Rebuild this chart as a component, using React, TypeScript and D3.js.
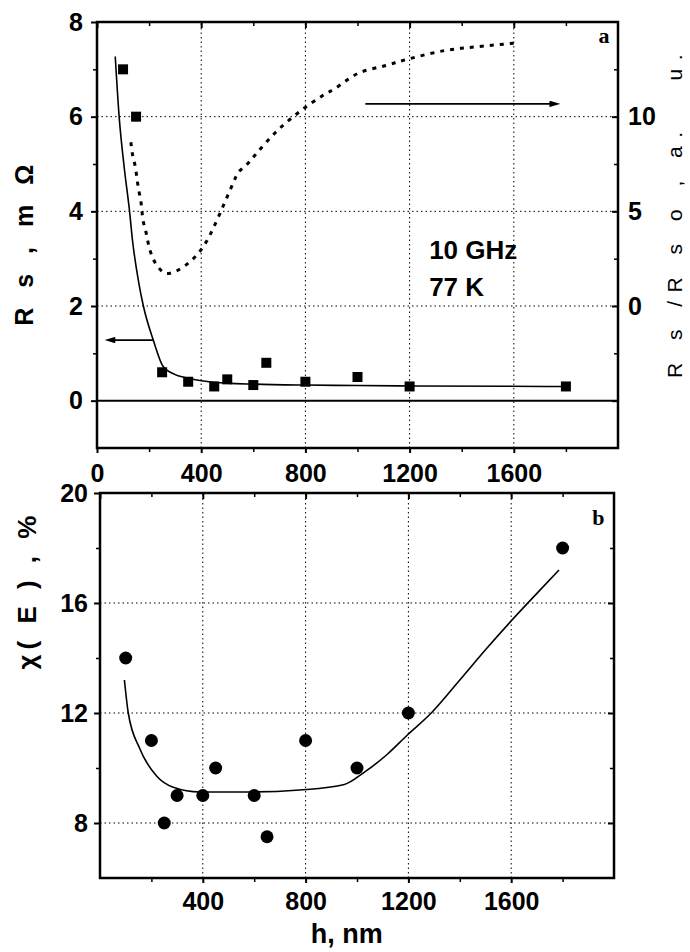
import React, { useEffect, useRef } from 'react';
import * as d3 from 'd3';

// ---- panel a: Rs vs film thickness h ----
const hA = [100, 150, 250, 350, 450, 500, 600, 650, 800, 1000, 1200, 1800];
const rsA = [7.0, 6.0, 0.6, 0.4, 0.3, 0.45, 0.33, 0.8, 0.4, 0.5, 0.3, 0.3];

// solid fit through the squares
const fitAh = [70, 85, 105, 125, 136, 160, 178, 216, 254, 300, 346, 400, 500, 600, 800, 1000, 1200, 1800];
const fitAv = [7.27, 6.0, 4.9, 4.0, 3.4, 2.5, 2.0, 1.28, 0.72, 0.55, 0.48, 0.42, 0.37, 0.35, 0.33, 0.32, 0.31, 0.3];

// dotted curve on the right axis, Rs/Rso
const ratioH = [130, 136, 146, 153, 159, 168, 172, 178, 188, 197, 210, 232, 264, 306, 354, 393, 419, 446, 485, 523, 542, 577, 615, 692, 781, 865, 915, 1004, 1108, 1196, 1338, 1465, 1615];
const ratioV = [8.65, 8.03, 7.42, 6.8, 6.2, 5.58, 5.05, 4.44, 3.9, 3.3, 2.68, 2.1, 1.72, 1.86, 2.3, 2.86, 3.38, 4.1, 5.3, 6.5, 7.05, 7.5, 8.1, 9.26, 10.3, 11.1, 11.5, 12.3, 12.7, 13.05, 13.5, 13.7, 13.9];

// ---- panel b: chi(E) vs h ----
const hB = [100, 200, 250, 300, 400, 450, 600, 650, 800, 1000, 1200, 1800];
const chiB = [14, 11, 8, 9, 9, 10, 9, 7.5, 11, 10, 12, 18];

const fitBh = [95, 110, 155, 221, 285, 388, 594, 777, 951, 1029, 1118, 1196, 1289, 1400, 1500, 1600, 1700, 1786];
const fitBv = [13.2, 12.0, 10.7, 9.7, 9.3, 9.13, 9.13, 9.2, 9.4, 9.85, 10.5, 11.2, 12.0, 13.2, 14.3, 15.35, 16.35, 17.2];

const xTicks = [0, 400, 800, 1200, 1600];
const xMinor = [200, 600, 1000, 1400, 1800];
const xGrid = [400, 800, 1200, 1600];

const FONT = '"Liberation Sans", Arial, sans-serif';
const fmt = (d: any) => String(d);

function styleAxis(sel: any, w: number) {
  sel.select('.domain').remove();
  sel.selectAll('line').attr('stroke', '#000').attr('stroke-width', w);
  sel.selectAll('text')
    .attr('font-family', FONT)
    .attr('font-size', 25)
    .attr('font-weight', 'bold')
    .attr('fill', '#000');
}

function grid(svg: any, x: any, y: any, xs: number[], ys: number[]) {
  const [x0, x1] = x.range();
  const [y0, y1] = y.range();
  svg.append('g').selectAll('line').data(xs).join('line')
    .attr('x1', (d: number) => x(d)).attr('x2', (d: number) => x(d))
    .attr('y1', y0).attr('y2', y1)
    .attr('stroke', '#000').attr('stroke-width', 1).attr('stroke-dasharray', '1.5,3');
  svg.append('g').selectAll('line').data(ys).join('line')
    .attr('y1', (d: number) => y(d)).attr('y2', (d: number) => y(d))
    .attr('x1', x0).attr('x2', x1)
    .attr('stroke', '#000').attr('stroke-width', 1).attr('stroke-dasharray', '1.5,3');
}

function drawA(svg: any) {
  const x = d3.scaleLinear().domain([0, 2000]).range([97, 618]);
  const y = d3.scaleLinear().domain([-1, 8]).range([448, 22]);
  const yR = d3.scaleLinear().domain([-7.5, 15]).range([448, 22]);

  grid(svg, x, y, xGrid, [2, 4, 6]);

  // zero line
  svg.append('line')
    .attr('x1', x(0)).attr('x2', x(2000)).attr('y1', y(0)).attr('y2', y(0))
    .attr('stroke', '#000').attr('stroke-width', 2);

  // axes
  svg.append('g').attr('transform', `translate(0,${y(-1)})`)
    .call(d3.axisBottom(x).tickValues(xTicks).tickSize(5).tickPadding(11).tickFormat(fmt)).call(styleAxis, 2);
  svg.append('g').attr('transform', `translate(0,${y(-1)})`)
    .call(d3.axisBottom(x).tickValues(xMinor).tickSize(4).tickFormat(() => '')).call(styleAxis, 1.5);
  svg.append('g').attr('transform', `translate(0,${y(8)})`)
    .call(d3.axisTop(x).tickValues(xTicks).tickSize(-6).tickFormat(() => '')).call(styleAxis, 2);
  svg.append('g').attr('transform', `translate(0,${y(8)})`)
    .call(d3.axisTop(x).tickValues(xMinor).tickSize(-4).tickFormat(() => '')).call(styleAxis, 1.5);
  svg.append('g').attr('transform', `translate(${x(0)},0)`)
    .call(d3.axisLeft(y).tickValues([0, 2, 4, 6, 8]).tickSize(6).tickPadding(8).tickFormat(fmt)).call(styleAxis, 2);
  svg.append('g').attr('transform', `translate(${x(0)},0)`)
    .call(d3.axisLeft(y).tickValues([1, 3, 5, 7]).tickSize(4).tickFormat(() => '')).call(styleAxis, 1.5);
  svg.append('g').attr('transform', `translate(${x(2000)},0)`)
    .call(d3.axisRight(yR).tickValues([-5, 0, 5, 10]).tickSize(-6).tickPadding(10)
      .tickFormat((d: any) => (d < 0 ? '' : String(d)))).call(styleAxis, 2);
  svg.append('g').attr('transform', `translate(${x(2000)},0)`)
    .call(d3.axisRight(yR).tickValues([-2.5, 2.5, 7.5, 12.5]).tickSize(-4).tickFormat(() => '')).call(styleAxis, 1.5);

  // frame
  svg.append('rect')
    .attr('x', x(0)).attr('y', y(8)).attr('width', x(2000) - x(0)).attr('height', y(-1) - y(8))
    .attr('fill', 'none').attr('stroke', '#000').attr('stroke-width', 2.5);

  // dotted ratio curve
  const ratioLine = d3.line<number>().x((d, i) => x(ratioH[i])).y(d => yR(d)).curve(d3.curveCatmullRom);
  svg.append('path').attr('d', ratioLine(ratioV))
    .attr('fill', 'none').attr('stroke', '#000').attr('stroke-width', 3).attr('stroke-dasharray', '4,6');

  // fit
  const fitLine = d3.line<number>().x((d, i) => x(fitAh[i])).y(d => y(d)).curve(d3.curveMonotoneX);
  svg.append('path').attr('d', fitLine(fitAv))
    .attr('fill', 'none').attr('stroke', '#000').attr('stroke-width', 1.6);

  // squares
  svg.append('g').selectAll('rect').data(rsA).join('rect')
    .attr('x', (d: number, i: number) => x(hA[i]) - 5).attr('y', (d: number) => y(d) - 5)
    .attr('width', 10).attr('height', 10).attr('fill', '#000');

  // arrows
  svg.append('line')
    .attr('x1', x(1030)).attr('x2', x(1745)).attr('y1', y(6.27)).attr('y2', y(6.27))
    .attr('stroke', '#000').attr('stroke-width', 1.6).attr('marker-end', 'url(#arr)');
  svg.append('line')
    .attr('x1', x(216)).attr('x2', x(62)).attr('y1', y(1.28)).attr('y2', y(1.28))
    .attr('stroke', '#000').attr('stroke-width', 1.6).attr('marker-end', 'url(#arr)');

  // annotations
  svg.append('text').attr('x', x(1275)).attr('y', y(3.0)).text('10 GHz')
    .attr('font-family', FONT).attr('font-size', 26).attr('font-weight', 'bold');
  svg.append('text').attr('x', x(1275)).attr('y', y(2.22)).text('77 K')
    .attr('font-family', FONT).attr('font-size', 26).attr('font-weight', 'bold');
  svg.append('text').attr('x', x(1925)).attr('y', y(7.55)).text('a')
    .attr('font-family', '"Liberation Serif", serif').attr('font-size', 22).attr('font-weight', 'bold');

  // axis titles
  svg.append('text').attr('transform', 'translate(33,242) rotate(-90)')
    .attr('text-anchor', 'middle').attr('font-family', FONT).attr('font-size', 25)
    .attr('font-weight', 'bold').attr('letter-spacing', 6.5).text('R s , m Ω');
  svg.append('text').attr('transform', 'translate(682,212) rotate(-90)')
    .attr('text-anchor', 'middle').attr('font-family', FONT).attr('font-size', 21)
    .attr('xml:space', 'preserve').style('white-space', 'pre')
    .attr('letter-spacing', 8.5).text('R s /R s o , a.   u.');
}

function drawB(svg: any) {
  const x = d3.scaleLinear().domain([0, 2000]).range([100, 614]);
  const y = d3.scaleLinear().domain([6, 20]).range([878, 493]);

  grid(svg, x, y, xGrid, [8, 12, 16]);

  svg.append('g').attr('transform', `translate(0,${y(6)})`)
    .call(d3.axisBottom(x).tickValues(xTicks.slice(1)).tickSize(5).tickPadding(9).tickFormat(fmt)).call(styleAxis, 2);
  svg.append('g').attr('transform', `translate(0,${y(6)})`)
    .call(d3.axisBottom(x).tickValues(xMinor).tickSize(4).tickFormat(() => '')).call(styleAxis, 1.5);
  svg.append('g').attr('transform', `translate(0,${y(20)})`)
    .call(d3.axisTop(x).tickValues(xTicks).tickSize(-6).tickFormat(() => '')).call(styleAxis, 2);
  svg.append('g').attr('transform', `translate(0,${y(20)})`)
    .call(d3.axisTop(x).tickValues(xMinor).tickSize(-4).tickFormat(() => '')).call(styleAxis, 1.5);
  svg.append('g').attr('transform', `translate(${x(0)},0)`)
    .call(d3.axisLeft(y).tickValues([8, 12, 16, 20]).tickSize(6).tickPadding(6).tickFormat(fmt)).call(styleAxis, 2);
  svg.append('g').attr('transform', `translate(${x(0)},0)`)
    .call(d3.axisLeft(y).tickValues([10, 14, 18]).tickSize(4).tickFormat(() => '')).call(styleAxis, 1.5);
  svg.append('g').attr('transform', `translate(${x(2000)},0)`)
    .call(d3.axisRight(y).tickValues([8, 12, 16]).tickSize(-6).tickFormat(() => '')).call(styleAxis, 2);
  svg.append('g').attr('transform', `translate(${x(2000)},0)`)
    .call(d3.axisRight(y).tickValues([10, 14, 18]).tickSize(-4).tickFormat(() => '')).call(styleAxis, 1.5);

  svg.append('rect')
    .attr('x', x(0)).attr('y', y(20)).attr('width', x(2000) - x(0)).attr('height', y(6) - y(20))
    .attr('fill', 'none').attr('stroke', '#000').attr('stroke-width', 2.5);

  const fitLine = d3.line<number>().x((d, i) => x(fitBh[i])).y(d => y(d)).curve(d3.curveMonotoneX);
  svg.append('path').attr('d', fitLine(fitBv))
    .attr('fill', 'none').attr('stroke', '#000').attr('stroke-width', 1.6);

  svg.append('g').selectAll('circle').data(chiB).join('circle')
    .attr('cx', (d: number, i: number) => x(hB[i])).attr('cy', (d: number) => y(d))
    .attr('r', 6.5).attr('fill', '#000');

  svg.append('text').attr('x', x(1915)).attr('y', y(18.84)).text('b')
    .attr('font-family', '"Liberation Serif", serif').attr('font-size', 22).attr('font-weight', 'bold');

  svg.append('text').attr('transform', 'translate(36,590) rotate(-90)')
    .attr('text-anchor', 'middle').attr('font-family', FONT).attr('font-size', 26)
    .attr('font-weight', 'bold').attr('letter-spacing', 5).text('χ( E ) , %');
  svg.append('text').attr('x', x(960)).attr('y', 943).attr('text-anchor', 'middle')
    .attr('font-family', FONT).attr('font-size', 27).attr('font-weight', 'bold').text('h, nm');
}

export default function App() {
  const ref = useRef<SVGSVGElement>(null);

  useEffect(() => {
    const svg = d3.select(ref.current);
    svg.selectAll('*').remove();

    svg.append('defs').append('marker')
      .attr('id', 'arr').attr('viewBox', '0 0 10 6').attr('refX', 2).attr('refY', 3)
      .attr('markerWidth', 7).attr('markerHeight', 4).attr('markerUnits', 'strokeWidth')
      .attr('orient', 'auto')
      .append('path').attr('d', 'M0,0 L10,3 L0,6 Z').attr('fill', '#000');

    drawA(svg);
    drawB(svg);
  }, []);

  return (
    <svg ref={ref} width={690} height={952}
      style={{ position: 'absolute', left: 0, top: 0, background: '#fff' }} />
  );
}
